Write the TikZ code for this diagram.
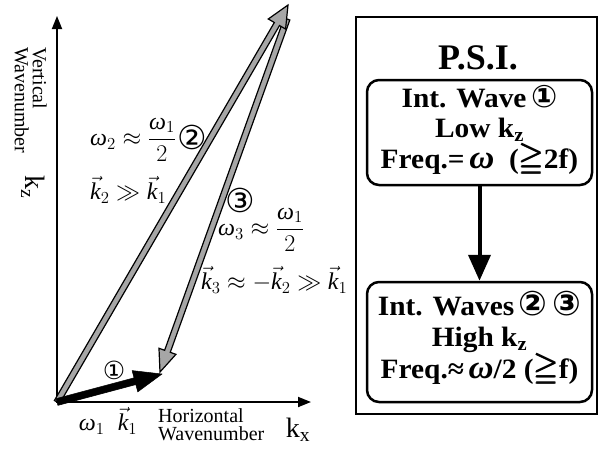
\RequirePackage{fix-cm}
\documentclass[tikz,border=0pt]{standalone}
\usepackage{amsmath,amssymb}
\usepackage{fontspec}
\setmainfont{Liberation Serif}
\newfontfamily\dejavu{DejaVu Sans}
\newfontfamily\boxfont[FakeStretch=1.05]{Liberation Serif}
\usetikzlibrary{calc,arrows.meta}
% fat outlined arrow: #1 prefix, #2 style, #3 start, #4 end, #5 half shaft, #6 head length, #7 half head width
\newcommand\fatarrow[7]{%
  \coordinate (#1h) at ($(#4)!#6!(#3)$);
  \draw[#2] ($(#3)!#5!90:(#4)$) -- ($(#1h)!#5!90:(#4)$) -- ($(#1h)!#7!90:(#4)$) -- (#4)
    -- ($(#1h)!#7!-90:(#4)$) -- ($(#1h)!#5!-90:(#4)$) -- ($(#3)!#5!-90:(#4)$) -- cycle;
}
\newcommand\cnum[2]{\smash{\dejavu\fontsize{#1}{#1}\selectfont #2}}
\newcommand\om{\text{\itshape ω}}
\newcommand\kv{\vec{\text{\itshape k}}}
\newcommand\bigom{{\fontsize{33}{30}\selectfont\textit{ω}}}
\newcommand\bgeq{\scalebox{1.15}{\pmb{$\geqq$}}}
\begin{document}
\begin{tikzpicture}[x=1pt,y=-1pt,
  kaxis/.style={line width=1.8pt,-{Triangle[length=13pt,width=10pt]}},
  wavevec/.style={fill=gray!70,draw=black,line width=1.2pt,line join=miter},
  primvec/.style={fill=black,draw=black,line width=0.5pt,line join=miter},
  lbl/.style={font=\fontsize{20}{18}\selectfont,inner sep=0pt,align=left},
  mathlbl/.style={font=\fontsize{24}{28}\selectfont,inner sep=0pt},
  circ/.style={font=\dejavu\fontsize{33}{33}\selectfont,inner sep=0pt},
  bigk/.style={font=\fontsize{28}{30}\selectfont,inner sep=0pt},
  pframe/.style={draw,line width=1.4pt,inner sep=0pt},
  rbox/.style={draw,line width=2.5pt,rounded corners=12pt,minimum width=225pt,
    align=center,font=\boxfont\bfseries\fontsize{28}{30.5}\selectfont,inner sep=0pt},
  flowarrow/.style={line width=4pt,-{Triangle[length=26pt,width=22pt]}}]
\fill[white] (0,0) rectangle (598,448);
\useasboundingbox (0,0) rectangle (598,448);

% axes
\coordinate (O) at (57,402);
\coordinate (ytip) at (57,16);
\coordinate (xtip) at (311,402);
\draw[kaxis] ([yshift=0.9pt]O) -- (ytip);
\draw[kaxis] ([xshift=-0.9pt]O) -- (xtip);

% wave vectors
\coordinate (T) at (288,5);
\coordinate (T3) at (287,19);
\coordinate (K1) at (162,374);
\coordinate (K3) at (160,372);
\fatarrow{c}{wavevec}{T3}{K3}{3pt}{22pt}{9pt}
\fatarrow{b}{wavevec}{O}{T}{3pt}{22pt}{10pt}
\fatarrow{a}{primvec}{O}{K1}{3.5pt}{28pt}{11pt}

% axis labels
\node[lbl,rotate=-90,anchor=north west] (vlab) at (47,47) {Vertical\\Wavenumber};
\node[bigk,rotate=-90] (kz) at (33,187) {k$_{\text{z}}$};
\node[lbl,anchor=north west] (hlab) at (158,408) {Horizontal\\Wavenumber};
\node[bigk] (kx) at (298,430) {k$_{\text{x}}$};

% vector labels
\node[circ,font=\dejavu\fontsize{25}{25}\selectfont] (c1) at (114,370) {①};
\node[mathlbl] (w1) at (108,421) {$\om_1\;\;\kv_1$};
\node[mathlbl,anchor=west] (w2) at (90,140) {$\om_2\approx\dfrac{\om_1}{2}$};
\node[circ] (c2) at (192,137) {②};
\node[mathlbl,anchor=west] (k2) at (90,190) {$\kv_2\gg\kv_1$};
\node[circ] (c3) at (240,200) {③};
\node[mathlbl,anchor=west] (w3) at (218,230) {$\om_3\approx\dfrac{\om_1}{2}$};
\node[mathlbl,anchor=west] (k3) at (201,280) {$\kv_3\approx-\kv_2\gg\kv_1$};

% P.S.I. panel
\node[pframe,minimum width=241pt,minimum height=397pt] (panel) at (476.5,215.5) {};
\node[font=\bfseries\fontsize{36}{36}\selectfont,inner sep=0pt] (title) at (478,58) {P.S.I.};
\node[rbox,minimum height=105pt] (b1) at (479.5,132.5)
  {Int. Wave\,\cnum{31}{①}\\Low k$_{\textbf{z}}$\\Freq.=\,\bigom\ \ (\bgeq2f)};
\node[rbox,minimum height=120pt] (b2) at (479.5,342)
  {Int. Waves\,\cnum{34}{②}\,\cnum{34}{③}\\High k$_{\textbf{z}}$\\Freq.≈\,\bigom/2 (\bgeq f)};
\draw[flowarrow] (b1) -- (b2);
\end{tikzpicture}
\end{document}
